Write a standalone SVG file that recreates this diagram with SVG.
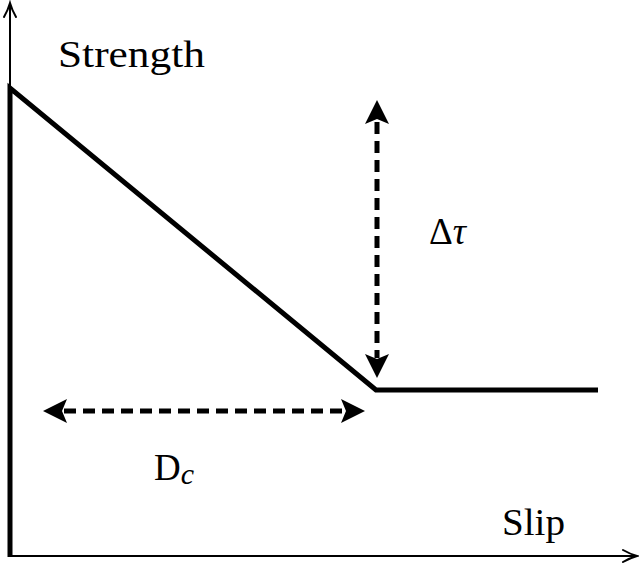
<svg xmlns="http://www.w3.org/2000/svg" width="639" height="567" viewBox="0 0 639 567">
<style>
.lbl{font-family:"Times New Roman","Liberation Serif","Noto Serif","DejaVu Serif",Times,serif;font-size:37px;fill:#000}
.axis{stroke:#000;stroke-width:2;fill:none}
.curve{stroke:#000;stroke-width:5;fill:none;stroke-linejoin:miter}
.dash{stroke:#000;stroke-width:5;fill:none;stroke-dasharray:12 7}
.head{fill:#000}
.open{stroke:#000;stroke-width:2;fill:none;stroke-linecap:round}
</style>
<rect width="639" height="567" fill="#fff"/>
<g id="axes">
<line class="axis" x1="10" y1="557" x2="10" y2="4"/>
<path class="open" d="M4,17 Q8,10 10,3 Q12,10 16,17"/>
<line class="axis" x1="8" y1="556" x2="636" y2="556"/>
<path class="open" d="M623,550 Q630,554 637,556 Q630,558 623,562"/>
</g>
<g id="strength-curve">
<polyline class="curve" points="10,557 10,88 376,390 598,390"/>
</g>
<g id="connectors">
<line class="dash" x1="377" y1="122" x2="377" y2="358"/>
<path class="head" d="M377,100 L389,124 L377,119 L365,124 Z"/>
<path class="head" d="M377,378 L389,354 L377,359 L365,354 Z"/>
<line class="dash" x1="64" y1="411" x2="344" y2="411"/>
<path class="head" d="M43,411 L67,399 L62,411 L67,423 Z"/>
<path class="head" d="M365,411 L341,399 L346,411 L341,423 Z"/>
</g>
<g id="label-strength"><text class="lbl" x="58" y="67" textLength="147" lengthAdjust="spacingAndGlyphs">Strength</text></g>
<g id="label-dtau"><text class="lbl" x="429" y="244">Δ<tspan font-style="italic">τ</tspan></text></g>
<g id="label-dc"><text class="lbl" x="154" y="480">D<tspan font-style="italic" font-size="30px" dy="4">c</tspan></text></g>
<g id="label-slip"><text class="lbl" x="502" y="535" textLength="63" lengthAdjust="spacingAndGlyphs">Slip</text></g>
</svg>
